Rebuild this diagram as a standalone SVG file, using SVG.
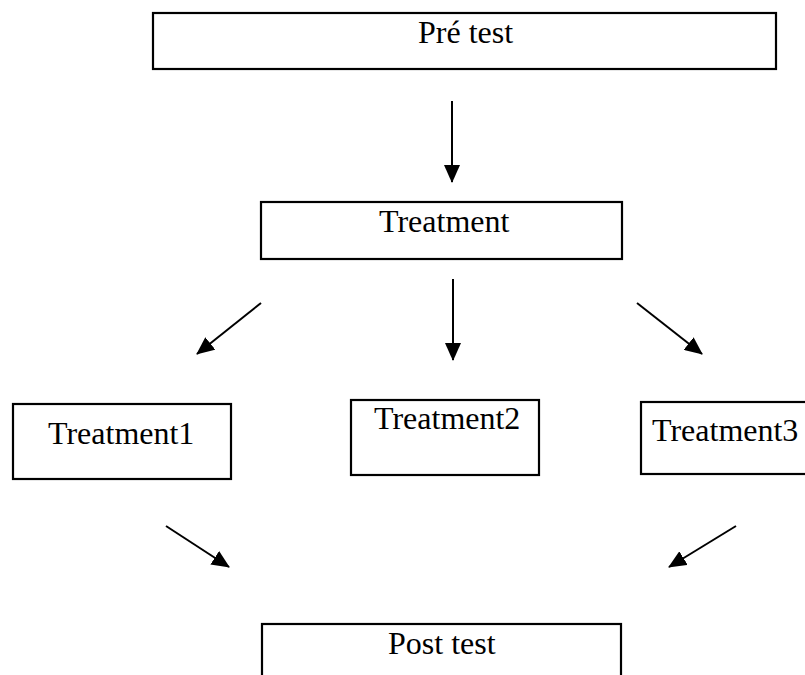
<svg xmlns="http://www.w3.org/2000/svg" width="805" height="675" viewBox="0 0 805 675">
<style>
.box{fill:#fff;stroke:#000;stroke-width:2.2}
.lbl{font-family:"Liberation Serif","Times New Roman",serif;font-size:32px;fill:#000}
.conn{stroke:#000;stroke-width:2;fill:none;marker-end:url(#ah)}
</style>
<defs>
<marker id="ah" markerWidth="9" markerHeight="8" refX="8.5" refY="4" orient="auto" markerUnits="strokeWidth">
<path d="M0,0 L9,4 L0,8 z" fill="#000"/>
</marker>
</defs>
<rect width="805" height="675" fill="#fff"/>
<g id="pretest">
<rect class="box" x="153" y="13" width="623" height="56"/>
<text class="lbl" x="418" y="43">Pré test</text>
</g>
<g id="treatment">
<rect class="box" x="261" y="202" width="361" height="57"/>
<text class="lbl" x="379" y="232">Treatment</text>
</g>
<g id="treatment1">
<rect class="box" x="13" y="404" width="218" height="75"/>
<text class="lbl" x="48" y="444">Treatment1</text>
</g>
<g id="treatment2">
<rect class="box" x="351" y="400" width="188" height="75"/>
<text class="lbl" x="374" y="429">Treatment2</text>
</g>
<g id="treatment3">
<rect class="box" x="641" y="402" width="170" height="72"/>
<text class="lbl" x="652" y="441">Treatment3</text>
</g>
<g id="posttest">
<rect class="box" x="262" y="624" width="359" height="60"/>
<text class="lbl" x="388" y="654">Post test</text>
</g>
<g id="connectors">
<line class="conn" x1="452" y1="101" x2="452" y2="182"/>
<line class="conn" x1="453" y1="279" x2="453" y2="360"/>
<line class="conn" x1="261" y1="303" x2="197" y2="354"/>
<line class="conn" x1="637" y1="303" x2="702" y2="354"/>
<line class="conn" x1="166" y1="526" x2="229" y2="567"/>
<line class="conn" x1="736" y1="526" x2="669" y2="567"/>
</g>
</svg>
